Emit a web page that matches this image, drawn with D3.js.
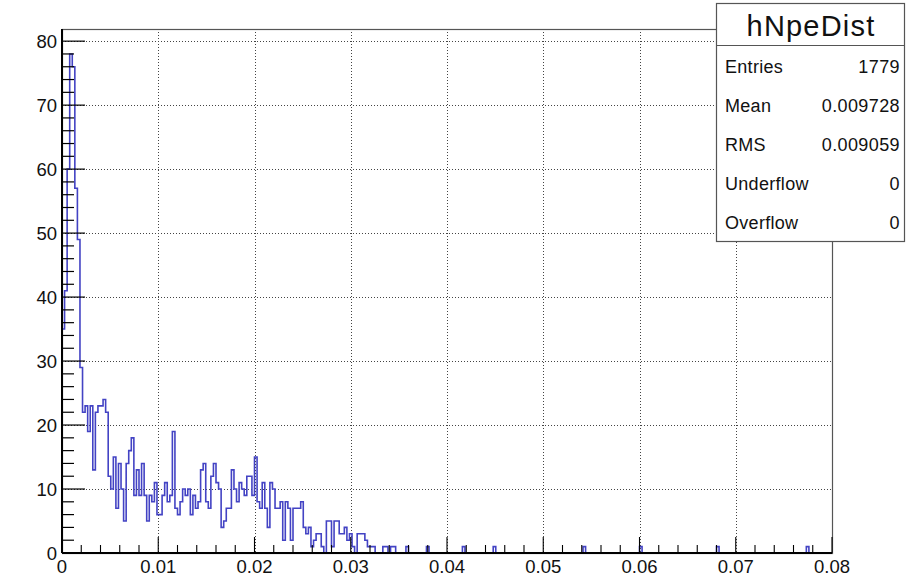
<!DOCTYPE html>
<html>
<head>
<meta charset="utf-8">
<script src="https://cdn.jsdelivr.net/npm/d3@7"></script>
<style>
  html, body { margin: 0; padding: 0; background: #fff; }
  svg { display: block; font-family: "Liberation Sans", Arial, Helvetica, sans-serif; }
</style>
</head>
<body>
<svg id="chart" width="906" height="577"></svg>
<script>
// Histogram hNpeDist: 300 bins between 0 and 0.08
const histName = "hNpeDist";
const xMin = 0, xMax = 0.08, nBins = 300;
const yMaxAxis = 81.9;

// Bin contents (bin 0 .. 125), the rest are listed as sparse entries
const headCounts = [
  35, 41, 60, 78, 76, 57, 49, 29, 22, 23,
  19, 23, 13, 22, 23, 23, 24, 22, 12, 10,
  15, 7, 14, 10, 5, 14, 16, 18, 9, 13,
  9, 14, 9, 5, 9, 8, 11, 6, 6, 9,
  11, 8, 9, 19, 7, 6, 8, 10, 9, 10,
  6, 9, 7, 8, 13, 14, 8, 7, 12, 14,
  11, 10, 4, 5, 7, 7, 13, 10, 8, 11,
  10, 9, 12, 12, 9, 15, 8, 7, 11, 7,
  4, 11, 10, 7, 7, 8, 2, 8, 7, 2,
  7, 7, 7, 8, 4, 3, 4, 1, 2, 3,
  3, 1, 0, 5, 5, 1, 5, 5, 3, 3,
  4, 2, 3, 1, 0, 3, 3, 3, 2, 1,
  1, 1, 0, 0, 0, 1
];
// Isolated entries in the tail: [bin index, count]
const tailBins = [
  [126, 1], [128, 1], [129, 1], [134, 1], [142, 1], [156, 1],
  [168, 1], [203, 1], [225, 1], [255, 1], [290, 1]
];

const statLabels = ["Entries", "Mean", "RMS", "Underflow", "Overflow"];
const statValues = ["1779", "0.009728", "0.009059", "0", "0"];

const xTicks = [0, 0.01, 0.02, 0.03, 0.04, 0.05, 0.06, 0.07, 0.08];
const xTickLabels = ["0", "0.01", "0.02", "0.03", "0.04", "0.05", "0.06", "0.07", "0.08"];
const yTicks = [0, 10, 20, 30, 40, 50, 60, 70, 80];

// Assemble full bin array
const counts = new Array(nBins).fill(0);
headCounts.forEach((c, i) => counts[i] = c);
tailBins.forEach(([i, c]) => counts[i] = c);

const svg = d3.select("#chart");
const frame = { left: 62, right: 832, top: 29, bottom: 553 };

const x = d3.scaleLinear().domain([xMin, xMax]).range([frame.left, frame.right]);
const y = d3.scaleLinear().domain([0, yMaxAxis]).range([frame.bottom, frame.top]);

// Grid
const grid = svg.append("g").attr("stroke", "#444").attr("stroke-width", 1)
  .attr("stroke-dasharray", "1,2").attr("shape-rendering", "crispEdges");
xTicks.slice(1, -1).forEach(v => {
  grid.append("line").attr("x1", Math.round(x(v)) + 0.5).attr("x2", Math.round(x(v)) + 0.5)
    .attr("y1", frame.top).attr("y2", frame.bottom);
});
yTicks.slice(1).forEach(v => {
  grid.append("line").attr("y1", Math.round(y(v)) + 0.5).attr("y2", Math.round(y(v)) + 0.5)
    .attr("x1", frame.left).attr("x2", frame.right);
});

// Frame
svg.append("rect")
  .attr("x", frame.left + 0.5).attr("y", frame.top + 0.5)
  .attr("width", frame.right - frame.left).attr("height", frame.bottom - frame.top)
  .attr("fill", "none").attr("stroke", "#555").attr("stroke-width", 1.2);

// Histogram outline
const binW = (xMax - xMin) / nBins;
const pts = [[xMin, 0]];
counts.forEach((c, i) => pts.push([xMin + i * binW, c]));
pts.push([xMax, counts[nBins - 1]]);
pts.push([xMax, 0]);
const line = d3.line().x(d => x(d[0])).y(d => y(d[1])).curve(d3.curveStepAfter);
svg.append("path").datum(pts)
  .attr("d", line)
  .attr("fill", "none")
  .attr("stroke", "#4343c4")
  .attr("stroke-width", 1.6)
  .attr("stroke-linejoin", "miter");

// X axis: major and minor ticks drawn upward into the frame
const xg = svg.append("g").attr("transform", `translate(0,${frame.bottom})`);
d3.range(0, 41).forEach(i => {
  const v = i * 0.002;
  const len = i % 5 === 0 ? 16 : 8;
  xg.append("line").attr("x1", x(v)).attr("x2", x(v)).attr("y1", 0).attr("y2", -len)
    .attr("stroke", "#000").attr("stroke-width", 1.1);
});
xg.append("line").attr("x1", frame.left).attr("x2", frame.right).attr("y1", 0).attr("y2", 0)
  .attr("stroke", "#000").attr("stroke-width", 2);
xTicks.forEach((v, i) => {
  xg.append("text").attr("x", x(v)).attr("y", 20).attr("text-anchor", "middle")
    .attr("font-size", 18.5).attr("fill", "#111").text(xTickLabels[i]);
});

// Y axis: ticks drawn rightward into the frame
const yg = svg.append("g").attr("transform", `translate(${frame.left},0)`);
d3.range(0, 41).forEach(i => {
  const v = i * 2;
  if (v > yMaxAxis) return;
  const len = i % 5 === 0 ? 23 : 12;
  yg.append("line").attr("x1", 0).attr("x2", len).attr("y1", y(v)).attr("y2", y(v))
    .attr("stroke", "#000").attr("stroke-width", 1.2);
});
yg.append("line").attr("x1", 0).attr("x2", 0).attr("y1", frame.top).attr("y2", frame.bottom)
  .attr("stroke", "#000").attr("stroke-width", 2);
yTicks.forEach(v => {
  yg.append("text").attr("x", -5).attr("y", y(v)).attr("dy", "0.36em")
    .attr("text-anchor", "end").attr("font-size", 18.5)
    .attr("fill", "#111").text(v);
});

// Statistics box
const box = { x: 716, y: 3, w: 188, h: 238, head: 42 };
const sb = svg.append("g");
sb.append("rect").attr("x", box.x + 0.5).attr("y", box.y + 0.5)
  .attr("width", box.w).attr("height", box.h)
  .attr("fill", "#fff").attr("stroke", "#555").attr("stroke-width", 1.2);
sb.append("line").attr("x1", box.x).attr("x2", box.x + box.w)
  .attr("y1", box.y + box.head + 0.5).attr("y2", box.y + box.head + 0.5)
  .attr("stroke", "#555").attr("stroke-width", 1.2);
sb.append("text").attr("x", box.x + box.w / 2 + 1).attr("y", box.y + 33)
  .attr("text-anchor", "middle").attr("font-size", 29).attr("letter-spacing", 1.2)
  .attr("fill", "#111").text(histName);
statLabels.forEach((lab, i) => {
  const yy = 67 + i * 39;
  sb.append("text").attr("x", box.x + 9).attr("y", yy).attr("dy", "0.36em")
    .attr("font-size", 18).attr("letter-spacing", 0.3).attr("fill", "#111").text(lab);
  sb.append("text").attr("x", box.x + box.w - 4).attr("y", yy).attr("dy", "0.36em")
    .attr("text-anchor", "end").attr("font-size", 18).attr("letter-spacing", 0.4)
    .attr("fill", "#111").text(statValues[i]);
});
</script>
</body>
</html>
